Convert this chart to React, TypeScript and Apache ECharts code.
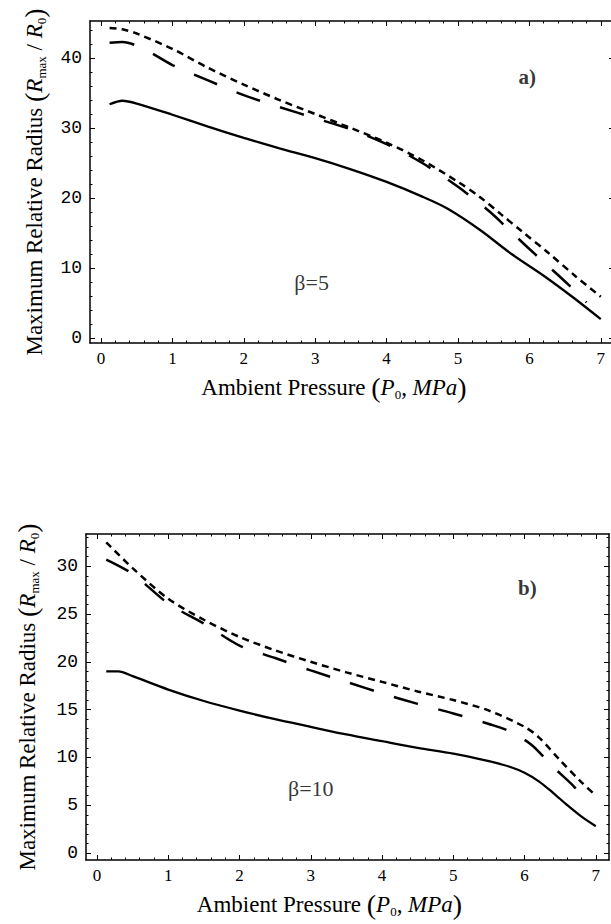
import { useEffect, useRef } from 'react';
import * as echarts from 'echarts';

// ---- tick values ----
const xTickValues = [0, 1, 2, 3, 4, 5, 6, 7];
const topYTickValues = [0, 10, 20, 30, 40];
const bottomYTickValues = [0, 5, 10, 15, 20, 25, 30];

// ---- panel a) beta = 5 ----
const topSolid = [
  [0.12, 33.4], [0.3, 33.9], [0.5, 33.5], [1, 31.9], [1.5, 30.2], [2, 28.6], [2.5, 27.1],
  [3, 25.7], [3.5, 24.1], [4, 22.3], [4.5, 20.2], [4.85, 18.5], [5.3, 15.5], [5.75, 12.0],
  [6.2, 8.9], [6.6, 5.9], [7, 2.7],
];
const topLongDash = [
  [0.12, 42.2], [0.3, 42.3], [0.6, 41.3], [1, 39.0], [1.5, 36.8], [2, 34.7], [2.5, 33.0],
  [3, 31.4], [3.5, 29.8], [4, 27.7], [4.5, 25.0], [5, 21.6], [5.45, 18.0], [5.7, 15.6],
  [5.97, 13.0], [6.25, 10.4], [6.55, 7.6], [6.8, 5.1],
];
const topShortDash = [
  [0.12, 44.3], [0.3, 44.1], [0.5, 43.5], [1, 41.3], [1.5, 38.6], [2, 36.2], [2.5, 34.0],
  [3, 32.0], [3.5, 30.0], [4, 27.9], [4.5, 25.4], [5, 22.3], [5.3, 20.2], [5.6, 17.7],
  [5.9, 15.2], [6.25, 12.3], [6.65, 8.8], [7, 5.9],
];

// ---- panel b) beta = 10 ----
const bottomSolid = [
  [0.13, 19.0], [0.3, 19.0], [0.5, 18.5], [1, 17.1], [1.5, 15.9], [2, 14.9], [2.5, 14.0],
  [3, 13.2], [3.5, 12.4], [4, 11.7], [4.5, 11.0], [5, 10.4], [5.5, 9.6], [5.8, 9.0],
  [6, 8.4], [6.2, 7.5], [6.4, 6.3], [6.6, 5.0], [6.8, 3.8], [7, 2.8],
];
const bottomLongDash = [
  [0.13, 30.7], [0.5, 29.2], [1, 26.1], [1.5, 24.0], [2, 21.7], [2.5, 20.4], [3, 19.1],
  [3.5, 17.9], [4, 16.7], [4.5, 15.6], [5, 14.6], [5.5, 13.5], [5.8, 12.7], [6.1, 11.3],
  [6.4, 9.0], [6.7, 6.9], [6.9, 5.0],
];
const bottomShortDash = [
  [0.13, 32.5], [0.5, 29.8], [1, 26.6], [1.5, 24.4], [2, 22.6], [2.5, 21.2], [3, 20.0],
  [3.5, 18.9], [4, 17.9], [4.5, 16.9], [5, 16.0], [5.5, 14.9], [6, 13.2], [6.2, 12.1],
  [6.5, 9.7], [6.8, 7.4], [7, 6.0],
];

// ---- annotations ----
const panelLabels = ['a)', 'b)'];
const panelLabelPos = [[5.97, 37.3], [6.04, 27.7]];
const betaLabels = ['β=5', 'β=10'];
const betaPos = [[2.95, 7.9], [3.0, 6.8]];

const SERIF = 'Liberation Serif';
const MONO = 'Liberation Mono';

function minorValues(min: number, max: number, step: number, major: number) {
  const out: number[] = [];
  const start = Math.ceil(min / step);
  for (let k = start; k * step <= max; k++) {
    const v = Math.round(k * step * 1000) / 1000;
    const r = v / major;
    if (Math.abs(r - Math.round(r)) > 1e-6) out.push(v);
  }
  return out;
}

const nameRich = {
  t: { fontFamily: SERIF, fontSize: 23, color: '#000', lineHeight: 28 },
  i: { fontFamily: SERIF, fontSize: 23, fontStyle: 'italic', color: '#000', lineHeight: 28 },
  p: { fontFamily: SERIF, fontSize: 28, color: '#000', lineHeight: 28 },
  sub: { fontFamily: SERIF, fontSize: 13, color: '#000', lineHeight: 13, verticalAlign: 'bottom' },
};

const xName = '{t|Ambient Pressure }{p|(}{i|P}{sub|0}{t|, }{i|MPa}{p|)}';
const yName = '{t|Maximum Relative Radius }{p|(}{i|R}{sub|max}{t| / }{i|R}{sub|0}{p|)}';

function buildAxes(
  gridIndex: number,
  xMin: number, xMax: number, yMin: number, yMax: number,
  yTicks: number[], yMinorStep: number, yMajor: number, yNameGap: number,
) {
  const black = { color: '#000', width: 1 };
  const xMinor = minorValues(xMin, xMax, 0.2, 1);
  const yMinor = minorValues(yMin, yMax, yMinorStep, yMajor);
  const baseX = { gridIndex, type: 'value', min: xMin, max: xMax, splitLine: { show: false } };
  const baseY = { gridIndex, type: 'value', min: yMin, max: yMax, splitLine: { show: false } };
  const frame = { show: true, onZero: false, lineStyle: { color: '#000', width: 1.5 } };
  const xAxes = [
    {
      ...baseX, position: 'bottom',
      axisLine: frame,
      axisTick: { show: true, inside: true, length: 5, customValues: xTickValues, lineStyle: black },
      axisLabel: { show: true, customValues: xTickValues, fontFamily: SERIF, fontSize: 17, color: '#000', margin: 7 },
      name: xName, nameLocation: 'middle', nameGap: 30,
      nameTextStyle: { rich: nameRich, padding: [0, 36, 0, 0] },
    },
    {
      ...baseX, position: 'bottom',
      axisLine: { show: false, onZero: false },
      axisTick: { show: true, inside: true, length: 2.5, customValues: xMinor, lineStyle: black },
      axisLabel: { show: false },
    },
    {
      ...baseX, position: 'top',
      axisLine: frame,
      axisTick: { show: true, inside: true, length: 5, customValues: xTickValues, lineStyle: black },
      axisLabel: { show: false },
    },
    {
      ...baseX, position: 'top',
      axisLine: { show: false, onZero: false },
      axisTick: { show: true, inside: true, length: 2.5, customValues: xMinor, lineStyle: black },
      axisLabel: { show: false },
    },
  ];
  const yAxes = [
    {
      ...baseY, position: 'left',
      axisLine: frame,
      axisTick: { show: true, inside: true, length: 5, customValues: yTicks, lineStyle: black },
      axisLabel: { show: true, customValues: yTicks, fontFamily: MONO, fontSize: 18, color: '#000', margin: 8 },
      name: yName, nameLocation: 'middle', nameGap: yNameGap, nameRotate: 90,
      nameTextStyle: { rich: nameRich },
    },
    {
      ...baseY, position: 'left',
      axisLine: { show: false, onZero: false },
      axisTick: { show: true, inside: true, length: 2.5, customValues: yMinor, lineStyle: black },
      axisLabel: { show: false },
    },
    {
      ...baseY, position: 'right',
      axisLine: frame,
      axisTick: { show: true, inside: true, length: 5, customValues: yTicks, lineStyle: black },
      axisLabel: { show: false },
    },
    {
      ...baseY, position: 'right',
      axisLine: { show: false, onZero: false },
      axisTick: { show: true, inside: true, length: 2.5, customValues: yMinor, lineStyle: black },
      axisLabel: { show: false },
    },
  ];
  return { xAxes, yAxes };
}

function lineSeries(data: number[][], axisIndex: number, kind: 'solid' | 'long' | 'short') {
  const type = kind === 'solid' ? 'solid' : kind === 'long' ? [25, 21] : [7, 5];
  return {
    type: 'line',
    xAxisIndex: axisIndex,
    yAxisIndex: axisIndex,
    data,
    showSymbol: false,
    symbol: 'none',
    smooth: 0.3,
    silent: true,
    lineStyle: { color: '#000', width: kind === 'solid' ? 2.3 : 2.5, type, cap: 'butt' },
  };
}

function textSeries(pos: number[], text: string, axisIndex: number, bold: boolean) {
  return {
    type: 'scatter',
    xAxisIndex: axisIndex,
    yAxisIndex: axisIndex,
    data: [pos],
    symbolSize: 1,
    itemStyle: { color: 'rgba(0,0,0,0)' },
    silent: true,
    label: {
      show: true,
      position: 'inside',
      formatter: text,
      fontFamily: SERIF,
      fontSize: bold ? 21 : 22,
      fontWeight: bold ? 'bold' : 'normal',
      color: '#000',
    },
  };
}

export default function App() {
  const ref = useRef<HTMLDivElement>(null);
  useEffect(() => {
    if (!ref.current) return;
    const chart = echarts.init(ref.current, undefined, { renderer: 'svg' });
    const top = buildAxes(0, -0.154, 7.185, -0.71, 45.29, topYTickValues, 2, 10, 42);
    const bottom = buildAxes(1, -0.154, 7.185, -0.73, 33.37, bottomYTickValues, 1, 5, 45);
    chart.setOption({
      animation: false,
      backgroundColor: '#fff',
      grid: [
        { left: 90, top: 21, right: -3, height: 322, outerBoundsMode: 'none' },
        { left: 86, top: 534, right: 2, height: 326, outerBoundsMode: 'none' },
      ],
      xAxis: [...top.xAxes, ...bottom.xAxes],
      yAxis: [...top.yAxes, ...bottom.yAxes],
      series: [
        lineSeries(topSolid, 0, 'solid'),
        lineSeries(topLongDash, 0, 'long'),
        lineSeries(topShortDash, 0, 'short'),
        lineSeries(bottomSolid, 4, 'solid'),
        lineSeries(bottomLongDash, 4, 'long'),
        lineSeries(bottomShortDash, 4, 'short'),
        textSeries(panelLabelPos[0], panelLabels[0], 0, true),
        textSeries(panelLabelPos[1], panelLabels[1], 4, true),
        textSeries(betaPos[0], betaLabels[0], 0, false),
        textSeries(betaPos[1], betaLabels[1], 4, false),
      ],
    });
    return () => chart.dispose();
  }, []);
  return (
    <div
      ref={ref}
      style={{ position: 'fixed', left: 0, top: 0, width: 611, height: 924, background: '#fff' }}
    />
  );
}
